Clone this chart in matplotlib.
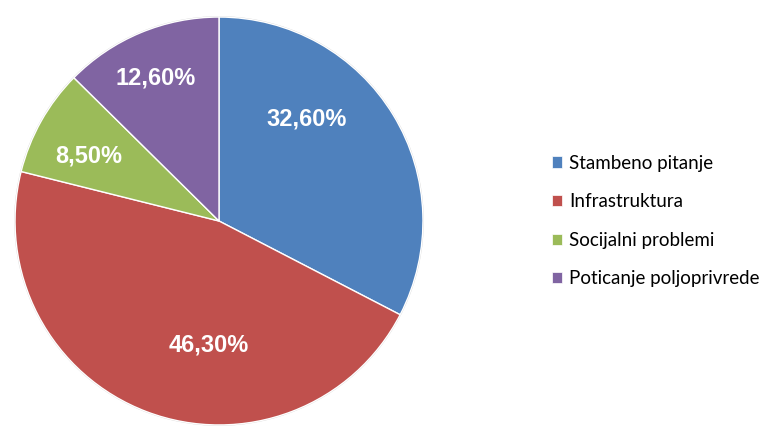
import matplotlib
matplotlib.use("Agg")
import matplotlib.pyplot as plt

categories = ["Stambeno pitanje", "Infrastruktura", "Socijalni problemi", "Poticanje poljoprivrede"]
values = [32.6, 46.3, 8.5, 12.6]
labels_pct = ["32,60%", "46,30%", "8,50%", "12,60%"]
colors = ["#4F81BD", "#C0504D", "#9BBB59", "#8064A2"]
label_pos = [(0.43, 0.50), (-0.05, -0.61), (-0.64, 0.32), (-0.31, 0.70)]

fig = plt.figure(figsize=(7.68, 4.29), dpi=100)
ax = fig.add_axes([13/768, 2/429, 412/768, 412/429])
wedges, _ = ax.pie(values, colors=colors, startangle=90, counterclock=False,
                   radius=1.0, wedgeprops=dict(edgecolor="white", linewidth=1.0))
circ = plt.Circle((0, 0), 1.0, fill=False, edgecolor="#d0d0d0", linewidth=1.2, zorder=0)
ax.add_patch(circ)
for lbl, (x, y) in zip(labels_pct, label_pos):
    ax.text(x, y, lbl, ha="center", va="center", color="white",
            fontsize=17, fontweight="bold", family="Liberation Sans")
ax.set_xlim(-1.01, 1.01)
ax.set_ylim(-1.01, 1.01)
ax.set_aspect("equal")
ax.axis("off")

leg = fig.legend(wedges, categories, loc="center left",
                 bbox_to_anchor=(552/768, (429 - 221)/429), frameon=False,
                 prop={"family": "Lato", "size": 13.5},
                 handlelength=0.55, handleheight=0.55, handletextpad=0.35,
                 labelspacing=1.15, borderpad=0, borderaxespad=0)
for h in leg.legend_handles:
    h.set_edgecolor("white")
    h.set_linewidth(0.5)

fig.savefig("out.png", dpi=100)
